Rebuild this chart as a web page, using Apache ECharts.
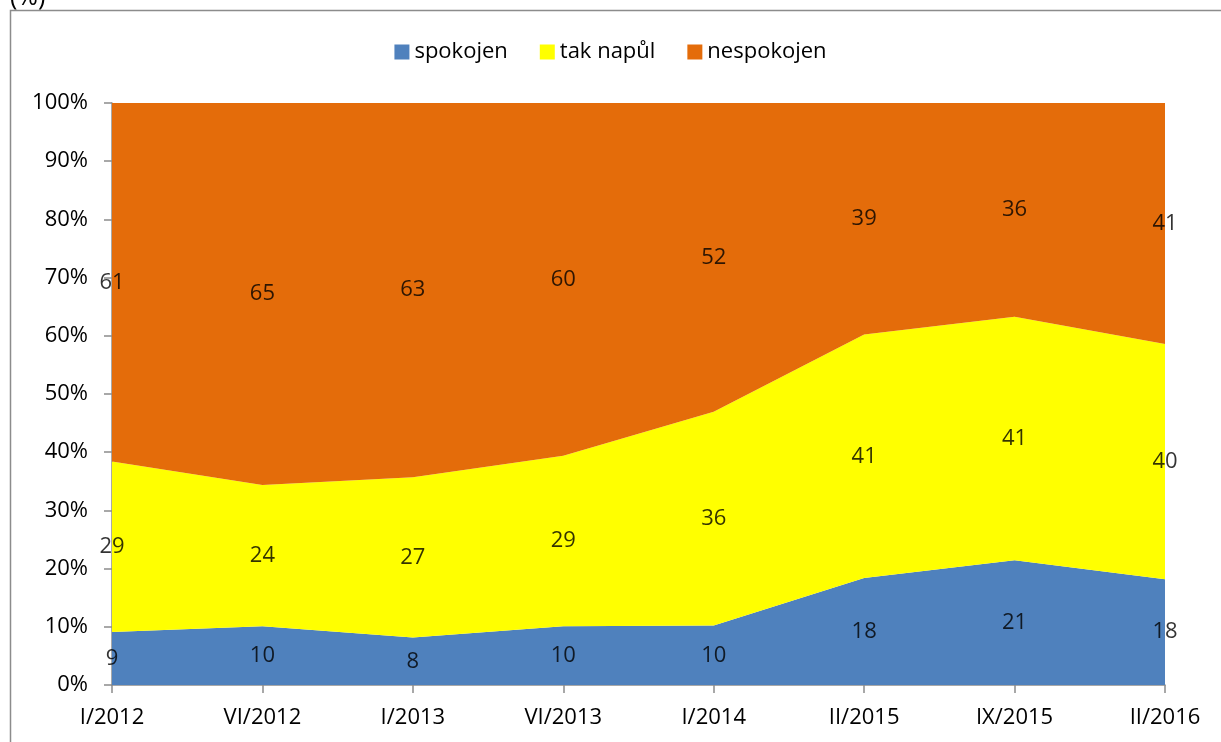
<!DOCTYPE html>
<html>
<head>
<meta charset="utf-8">
<script src="https://cdn.jsdelivr.net/npm/echarts@6/dist/echarts.min.js"></script>
<style>
  html, body { margin: 0; padding: 0; background: #fff; }
  #chart { width: 1221px; height: 742px; }
</style>
</head>
<body>
<div id="chart"></div>
<script>
var categories = ['I/2012', 'VI/2012', 'I/2013', 'VI/2013', 'I/2014', 'II/2015', 'IX/2015', 'II/2016']
var spokojen = [9, 10, 8, 10, 10, 18, 21, 18]
var takNapul = [29, 24, 27, 29, 36, 41, 41, 40]
var nespokojen = [61, 65, 63, 60, 52, 39, 36, 41]
var names = ['spokojen', 'tak napůl', 'nespokojen']
var colors = ['#4F81BD', '#FFFF00', '#E46C0A']

var raw = [spokojen, takNapul, nespokojen]
// 100% skládaný graf: přepočet na podíly
var totals = categories.map(function (c, i) {
  return spokojen[i] + takNapul[i] + nespokojen[i]
})
var pct = raw.map(function (arr) {
  return arr.map(function (v, i) { return v / totals[i] * 100 })
})

var font = 'Open Sans'
var fs = 22
var series = []
pct.forEach(function (arr, k) {
  series.push({
    name: names[k],
    type: 'line',
    stack: 'all',
    data: arr,
    symbol: 'none',
    lineStyle: { width: 0 },
    areaStyle: { color: colors[k], opacity: 1 },
    itemStyle: { color: colors[k] },
    z: 2
  })
})
// popisky uprostřed pásů
pct.forEach(function (arr, k) {
  var mids = arr.map(function (v, i) {
    var base = 0
    for (var j = 0; j < k; j++) base += pct[j][i]
    return base + v / 2
  })
  series.push({
    name: 'lbl' + k,
    type: 'scatter',
    data: mids,
    symbolSize: 0,
    silent: true,
    z: 5,
    label: {
      show: true,
      position: 'inside',
      color: '#000',
      fontFamily: font,
      fontSize: fs,
      formatter: function (p) { return raw[k][p.dataIndex] }
    }
  })
})

var myChart = echarts.init(document.getElementById('chart'))
var option = {
  backgroundColor: '#fff',
  animation: false,
  graphic: [
    { type: 'rect', shape: { x: 10.5, y: 10.5, width: 1300, height: 900 },
      style: { fill: null, stroke: '#8c8c8c', lineWidth: 1.5 }, silent: true },
    { type: 'text', left: 10, top: -15,
      style: { text: '(%)', font: '25px "Open Sans"', fill: '#000' } }
  ],
  legend: {
    data: names,
    top: 36,
    left: 'center',
    itemWidth: 15,
    itemHeight: 15,
    itemGap: 32,
    icon: 'rect',
    textStyle: { fontFamily: font, fontSize: fs, color: '#000' }
  },
  grid: { left: 112, right: 56, top: 103, bottom: 57, containLabel: false },
  xAxis: {
    type: 'category',
    data: categories,
    boundaryGap: false,
    axisLine: { lineStyle: { color: '#8c8c8c', width: 1.5 } },
    axisTick: { show: true, alignWithLabel: true, length: 8, lineStyle: { color: '#8c8c8c', width: 1.5 } },
    axisLabel: { fontFamily: font, fontSize: fs, color: '#000', margin: 22 }
  },
  yAxis: {
    type: 'value',
    min: 0,
    max: 100,
    interval: 10,
    splitLine: { show: false },
    axisLine: { show: true, lineStyle: { color: '#8c8c8c', width: 1.5 } },
    axisTick: { show: true, length: 8, lineStyle: { color: '#8c8c8c', width: 1.5 } },
    axisLabel: { fontFamily: font, fontSize: fs, color: '#000', margin: 24, formatter: '{value}%' }
  },
  series: series
}
myChart.setOption(option)
</script>
</body>
</html>
